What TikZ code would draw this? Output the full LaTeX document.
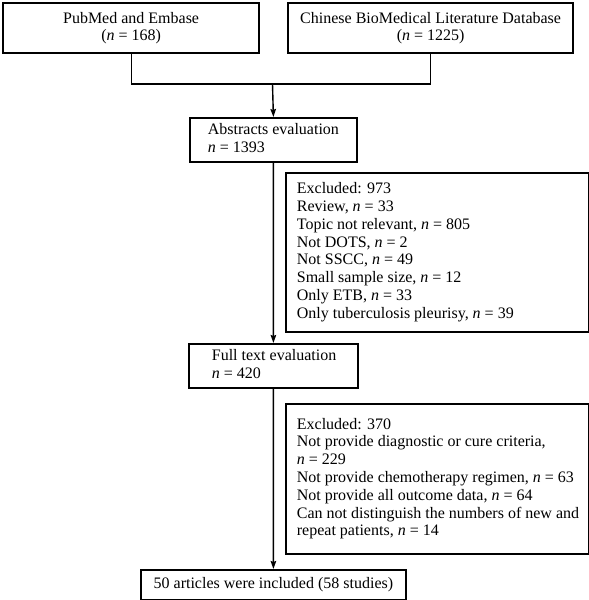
\documentclass[tikz,border=0pt]{standalone}
\usepackage{fontspec}
\setmainfont{Liberation Serif}
\usetikzlibrary{arrows.meta}
\newcommand{\leftblock}[3]{\makebox[#1][l]{\hspace*{#2}\begin{tabular}{@{}l@{}}#3\end{tabular}}}
\begin{document}
\begin{tikzpicture}[x=1bp,y=-1bp,
  font=\fontsize{16bp}{17.8bp}\selectfont,
  box/.style={draw, line width=1.8bp, inner sep=0pt, anchor=north west},
  thickbox/.style={box, line width=2.2bp},
  link/.style={line width=1.1bp},
  flow/.style={line width=1.4bp, -{Stealth[length=8bp,width=5.5bp,inset=1bp]}}]
\useasboundingbox (0,0) rectangle (589,600);
\node[thickbox, minimum width=256bp, minimum height=50bp, align=center] (pub) at (2,2)
  {PubMed and Embase\\(\textit{n} = 168)};
\node[thickbox, minimum width=285bp, minimum height=50bp, align=center] (cbm) at (287,2)
  {Chinese BioMedical Literature Database\\(\textit{n} = 1225)};
\node[box, minimum width=167bp, minimum height=44bp] (abs) at (189,117)
  {\leftblock{167bp}{18bp}{Abstracts evaluation\\ \textit{n} = 1393}};
\node[box, minimum width=303bp, minimum height=159bp] (ex1) at (285,172)
  {\leftblock{303bp}{11bp}{Excluded: 973\\
   Review, \textit{n} = 33\\
   Topic not relevant, \textit{n} = 805\\
   Not DOTS, \textit{n} = 2\\
   Not SSCC, \textit{n} = 49\\
   Small sample size, \textit{n} = 12\\
   Only ETB, \textit{n} = 33\\
   Only tuberculosis pleurisy, \textit{n} = 39}};
\node[box, minimum width=169bp, minimum height=44bp] (full) at (188,343)
  {\leftblock{169bp}{23bp}{Full text evaluation\\ \textit{n} = 420}};
\node[box, minimum width=303bp, minimum height=150bp] (ex2) at (285,403)
  {\leftblock{303bp}{11bp}{Excluded: 370\\
   Not provide diagnostic or cure criteria,\\
   \textit{n} = 229\\
   Not provide chemotherapy regimen, \textit{n} = 63\\
   Not provide all outcome data, \textit{n} = 64\\
   Can not distinguish the numbers of new and\\
   repeat patients, \textit{n} = 14}};
\node[box, minimum width=265bp, minimum height=30bp] (fin) at (140,569)
  {50 articles were included (58 studies)};
\coordinate (j) at (272.5,84);
\draw[link] (pub.south) -- (pub.south |- j) -- (cbm.south |- j) -- (cbm.south);
\draw[flow] (j) -- (abs.north);
\draw[flow] (abs.south) -- (full.north);
\draw[flow] (full.south) -- (fin.north);
\end{tikzpicture}
\end{document}
